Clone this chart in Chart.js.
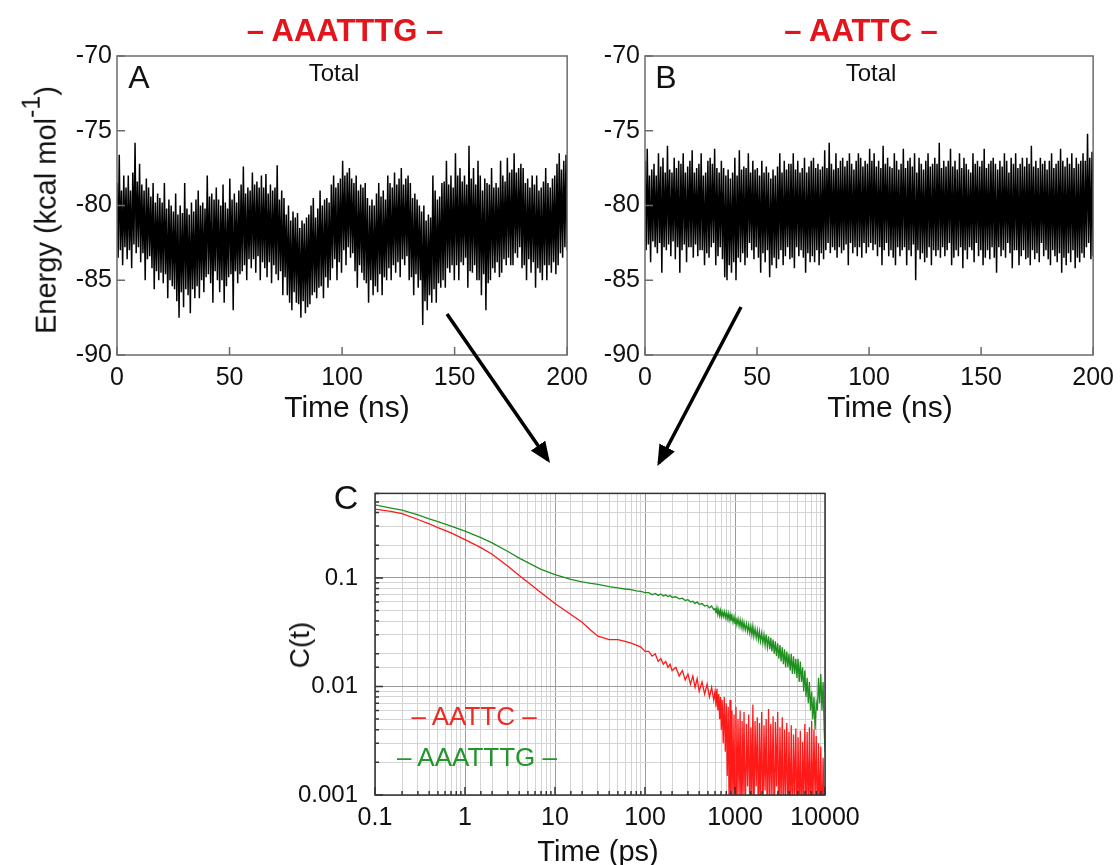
<!DOCTYPE html>
<html>
<head>
<meta charset="utf-8">
<script src="https://cdn.jsdelivr.net/npm/chart.js@4.4.1/dist/chart.umd.min.js"></script>
<style>
  body { margin: 0; background: #fff; font-family: "Liberation Sans", Arial, sans-serif; }
  #page { position: relative; width: 1120px; height: 865px; overflow: hidden; }
  canvas { position: absolute; }
  .lbl { position: absolute; transform: translate(-50%, -50%); white-space: nowrap; line-height: 1; color: #111; }
  .rot { transform: translate(-50%, -50%) rotate(-90deg); }
  svg { position: absolute; left: 0; top: 0; pointer-events: none; }
</style>
</head>
<body>
<div id="page">
  <canvas id="chartA" width="596" height="394" style="left:0;top:36px"></canvas>
  <canvas id="chartB" width="594" height="394" style="left:528px;top:36px"></canvas>
  <canvas id="chartC" width="620" height="403" style="left:250px;top:462px"></canvas>

  <div class="lbl" style="left:345px;top:30px;font-size:31px;font-weight:bold;color:#e3141b">– AAATTTG –</div>
  <div class="lbl" style="left:861px;top:30px;font-size:31px;font-weight:bold;color:#e3141b">– AATTC –</div>
  <div class="lbl" style="left:334px;top:73px;font-size:24px">Total</div>
  <div class="lbl" style="left:871px;top:73px;font-size:24px">Total</div>
  <div class="lbl" style="left:139px;top:77px;font-size:32px">A</div>
  <div class="lbl" style="left:666px;top:77px;font-size:32px">B</div>
  <div class="lbl rot" style="left:42px;top:210px;font-size:29px">Energy (kcal mol<sup style="font-size:25px;position:relative;top:-5px">-1</sup>)</div>
  <div class="lbl" style="left:347px;top:407px;font-size:30px">Time (ns)</div>
  <div class="lbl" style="left:890px;top:407px;font-size:30px">Time (ns)</div>
  <div class="lbl" style="left:346px;top:497px;font-size:34px">C</div>
  <div class="lbl rot" style="left:300px;top:645px;font-size:28px">C(t)</div>
  <div class="lbl" style="left:598px;top:851px;font-size:29px">Time (ps)</div>
  <div class="lbl" style="left:474px;top:716px;font-size:26px;color:#ee2a24">– AATTC –</div>
  <div class="lbl" style="left:477px;top:757px;font-size:26px;color:#22962a">– AAATTTG –</div>

  <svg width="1120" height="865">
    <defs>
      <marker id="head" markerWidth="6" markerHeight="5" refX="5" refY="2.5" orient="auto" markerUnits="strokeWidth">
        <path d="M0,0 L6,2.5 L0,5 Z" fill="#000"/>
      </marker>
    </defs>
    <line x1="447" y1="314" x2="548" y2="460" stroke="#000" stroke-width="3.5" marker-end="url(#head)"/>
    <line x1="741" y1="307" x2="659" y2="463" stroke="#000" stroke-width="3.5" marker-end="url(#head)"/>
  </svg>
</div>

<script>
// total energy, AAATTTG (panel A): high / low pairs every 0.5 ns over 0..200 ns
const energyA = [
  -78.5,-83.5, -76.6,-83, -79,-84, -78,-82.8, -78.8,-83.6,
  -78,-83, -79,-84.2, -77.8,-82.6, -75.8,-83.2, -78.4,-82.8,
  -77.2,-83.8, -78.6,-83.2, -79,-85, -78.2,-83.6, -78.8,-83.4,
  -79.4,-84.2, -78.5,-85.6, -79.8,-84.4, -79.2,-85, -79.5,-84.5,
  -79.8,-85.2, -78.5,-84.6, -80.2,-86.2, -79.6,-85, -80,-85.4,
  -80.4,-85.6, -79.2,-86.4, -80.6,-87.5, -80,-85.8, -80.5,-86.8,
  -78.5,-85.6, -80.2,-86, -80.6,-87.2, -79.8,-85.6, -80.4,-86.2,
  -79.6,-85.4, -79,-86.2, -80,-85, -79.8,-85.8, -80.2,-84.8,
  -78,-84.6, -79.4,-85.2, -79.2,-86.5, -79.6,-84.4, -78.8,-85,
  -79.6,-85.8, -80,-85, -78.6,-86.5, -79.8,-85.4, -80.2,-84.8,
  -78.2,-84.6, -79.6,-87, -79.2,-84.4, -79.8,-85.2, -79,-84.6,
  -78.6,-84.4, -77.4,-84, -79.2,-85, -78.8,-83.6, -79,-84.2,
  -77.8,-83.6, -78.6,-84.5, -78.4,-83.4, -78.8,-85, -78,-83.8,
  -78.8,-84.2, -77.9,-84.8, -79.2,-83.8, -78.6,-85.2, -79,-84,
  -78.8,-84.6, -77.3,-85, -79.6,-84.4, -79,-86, -79.5,-84.8,
  -80.6,-86, -80,-86.5, -81,-87, -80.4,-85.8, -80.8,-86.5,
  -80.5,-86.6, -81.5,-87.5, -81,-86.4, -81.2,-87.2, -80.8,-86.8,
  -80.6,-86.6, -80,-86, -79.5,-85.8, -80.8,-86.2, -80.2,-85.5,
  -79,-85.4, -80,-86.2, -79.6,-84.8, -79.5,-85.5, -79.8,-85,
  -78.6,-84.2, -78,-83.6, -78.8,-85, -78.5,-83.8, -78.2,-84.5,
  -77,-83, -78,-84, -77.8,-82.8, -77.5,-83.5, -78.2,-83.2,
  -78.5,-84.4, -78,-85.5, -79,-84, -78.6,-84.5, -78.8,-85,
  -78.5,-85.2, -79.5,-86.5, -80,-85, -79.6,-86, -80,-85.4,
  -79.2,-85.8, -78.5,-84.6, -79.4,-86, -79,-84.8, -79.6,-85,
  -78,-84.2, -78.5,-85, -78.8,-84, -77.8,-84.5, -78.6,-83.8,
  -78.2,-84.8, -77.5,-83.6, -78.6,-84, -78.2,-83.4, -78,-85,
  -78.5,-84.8, -79.5,-86, -79.2,-84.6, -79.6,-85.5, -80,-85,
  -80.4,-88, -80,-86.4, -81,-87, -80.6,-86, -80.8,-86.5,
  -78,-85.6, -79,-86.5, -79.6,-85.2, -79.4,-85.5, -78.5,-85,
  -78.4,-85.5, -77,-84.2, -78.6,-84.5, -78,-84, -78.8,-85,
  -76.5,-84, -78,-85, -77.5,-83.8, -78.4,-84, -78,-83.5,
  -78.6,-85.5, -76,-84.4, -78.2,-84.5, -77.5,-84, -78.6,-85,
  -77,-85, -78,-86, -79,-84.6, -78.2,-87, -78.5,-85.2,
  -78.6,-85, -77.5,-84.2, -78.8,-84.5, -78.5,-83.8, -78.8,-84.8,
  -77,-84.5, -78,-83.6, -78.4,-84, -76.8,-83.5, -77.8,-84,
  -77.6,-84, -76.5,-83.2, -77.8,-83.5, -77.5,-82.8, -77.2,-84.2,
  -77.5,-84, -78.5,-85, -78.2,-83.6, -78.8,-84.5, -78,-83.8,
  -78.6,-85.5, -78,-84.2, -79,-84.5, -78.8,-85, -78.4,-84,
  -77.5,-85, -78.5,-84, -78.8,-84.5, -78.2,-83.8, -78,-84.6,
  -77.2,-84, -76.5,-83.2, -77.6,-83.5, -77,-82.8, -76.6,-83
];

// total energy, AATTC (panel B)
const energyB = [
  -77,-83, -76.2,-82.6, -78,-83.8, -77.6,-82.4, -77.2,-82.8,
  -78,-83.2, -76.5,-82.5, -77.4,-84.5, -76.8,-82.8, -77.8,-83,
  -76,-82.6, -77.6,-83.4, -77.8,-82.4, -76.8,-83.6, -77.5,-82.8,
  -77,-84.5, -77.2,-83, -76.5,-82.6, -77.8,-83.8, -77.4,-82.8,
  -77,-82.8, -76.3,-83.5, -77.8,-82.6, -77.5,-83.4, -77.2,-83,
  -76.5,-83, -78,-84, -77.8,-83.2, -77,-83.5, -76.8,-82.8,
  -77.2,-82.5, -76.2,-84, -77.5,-83.4, -77.8,-82.8, -77,-83.6,
  -77.5,-84.8, -78,-85, -77.6,-84, -78.2,-84.5, -77.8,-83.8,
  -76.8,-85, -78,-83.5, -76.3,-83.8, -77.6,-83.2, -77.4,-84,
  -77.5,-83.5, -76.5,-82.5, -77.8,-83, -77,-83.6, -77.6,-82.8,
  -77.5,-83.5, -78,-84.5, -77,-83.2, -77.8,-83.8, -77.4,-83,
  -77.8,-84.8, -78.2,-84, -77.6,-83.5, -78,-84.2, -77.4,-83.6,
  -76.5,-83, -77.8,-84, -77,-83.4, -77.6,-82.8, -77.2,-83.6,
  -77.2,-83.5, -76.5,-84.2, -77.6,-82.8, -77,-83.4, -77.8,-83,
  -77.5,-83.5, -76.8,-84.5, -77.8,-83.2, -77.4,-83.8, -77,-83.4,
  -76.8,-83.8, -77.5,-83, -77.2,-84, -77.6,-83.2, -77.4,-83.6,
  -76.3,-83, -77.5,-82.5, -75.8,-83.2, -77.2,-82.8, -77.6,-83,
  -76.5,-83.5, -77.5,-82.8, -77,-83.2, -76.8,-83, -77.4,-82.6,
  -77,-84, -76.5,-82.5, -77.2,-83.2, -77.6,-82.8, -77,-83.4,
  -76.5,-82.8, -76.8,-83.5, -77.4,-82.5, -77,-83.2, -77.2,-82.8,
  -76.2,-82.5, -77,-83, -76.5,-82.6, -77.4,-83.4, -77,-82.8,
  -77.5,-84, -76,-83, -77.2,-82.5, -76.8,-83.4, -77.4,-83,
  -77.5,-83.5, -76.5,-84, -77,-82.8, -77.6,-83.4, -77.2,-83,
  -76.2,-82.8, -77.5,-84, -77,-83, -76.8,-83.4, -77.4,-82.6,
  -76.5,-85, -77.8,-83, -76.8,-83.6, -77.2,-83.2, -77.6,-83.8,
  -77,-83.5, -76.5,-82.8, -77.4,-84, -77.2,-83, -76.8,-83.4,
  -77.2,-83, -75.8,-83.5, -77.5,-82.8, -77,-83.4, -77.4,-83,
  -77,-82.5, -76.2,-84, -77.4,-83.5, -77,-83, -77.6,-83.4,
  -76.5,-82.8, -77.5,-84.2, -76.8,-83, -77.2,-83.6, -77.6,-82.8,
  -77.8,-83, -76.5,-83.8, -77.2,-82.5, -77,-83.4, -77.4,-83,
  -77,-84, -76.2,-83.5, -77.5,-83, -77.2,-83.6, -77,-82.8,
  -76.8,-83.5, -77.2,-84.5, -77.6,-82.8, -77,-83.4, -77.4,-83,
  -76.5,-83.5, -77,-82.5, -77.8,-83.2, -76.8,-84.2, -77.2,-83,
  -76.5,-83, -77.5,-84, -77.2,-83.4, -76.8,-83, -77.4,-83.6,
  -76.8,-83.5, -77.2,-84, -76,-83, -77.4,-83.6, -77,-83.2,
  -77.5,-83.8, -76.8,-82.5, -77.2,-83.4, -77,-83, -77.6,-83.6,
  -77,-84, -76.5,-83, -77.5,-83.4, -77.2,-83.8, -77,-83.2,
  -76.2,-84.5, -77,-83.5, -77.4,-84, -76.8,-83.2, -77.2,-83.8,
  -76.5,-83, -77.5,-84.2, -76.8,-83.5, -77.2,-83.8, -77,-83.2,
  -76.5,-83.5, -77,-82.8, -75.2,-82.5, -76.8,-83.6, -76.4,-83.4
];

const nsTicks = [0, 50, 100, 150, 200];
const energyTicks = [-90, -85, -80, -75, -70];

// panel C: autocorrelation vs time (ps), log-log
const corrTime = [
  0.1, 0.15, 0.2, 0.3, 0.4, 0.5, 0.7, 1, 1.5, 2, 3, 4, 5, 7, 10, 15, 20, 25, 30, 40, 50, 60, 70, 80, 90, 100,
  110, 120, 130, 140, 150, 160, 170, 180, 190, 200, 220, 240, 260, 280, 300, 320, 340, 360, 380, 400, 430, 460, 490, 520, 550, 580,
  600, 615, 630, 645, 660, 675, 690, 705, 720, 740, 760, 780, 800, 820, 840, 860, 880, 900,
  925, 950, 975, 1000, 1025, 1050, 1080, 1110, 1140, 1170, 1200, 1230, 1260,
  1300, 1340, 1380, 1420, 1460, 1500, 1540, 1580, 1620, 1670, 1720, 1770, 1820, 1870, 1920,
  1980, 2040, 2100, 2160, 2220, 2290, 2360, 2430, 2500, 2570, 2650, 2730, 2810, 2890,
  2980, 3070, 3160, 3250, 3350, 3450, 3550, 3650, 3760, 3870, 3980, 4100, 4220, 4340,
  4470, 4600, 4740, 4880, 5020, 5170, 5320, 5480, 5640, 5800, 5970,
  6150, 6330, 6520, 6710, 6910, 7110, 7320, 7540, 7760, 7990, 8230, 8470, 8720, 8980, 9250, 9520, 9800, 10000
];
const corrAATTC = [
  0.43, 0.41, 0.39, 0.345, 0.315, 0.29, 0.26, 0.225, 0.19, 0.165, 0.128, 0.105, 0.091, 0.073, 0.058, 0.046, 0.039, 0.033, 0.029, 0.027, 0.027, 0.026, 0.025, 0.024, 0.023, 0.021,
  0.021, 0.019, 0.020, 0.017, 0.018, 0.016, 0.017, 0.015, 0.016, 0.014, 0.015, 0.0125, 0.014, 0.0115, 0.013, 0.0105, 0.0125, 0.0098, 0.0118, 0.009, 0.011, 0.0085, 0.0105, 0.008, 0.0098, 0.0075,
  0.009, 0.0065, 0.0095, 0.006, 0.0085, 0.005, 0.008, 0.004, 0.0075,
  0.003, 0.008, 0.0025, 0.007, 0.0015, 0.0065, 0.0008, 0.0075, 0.0005,
  0.006, 0.0008, 0.0055, 0.0004, 0.0065, 0.0007,
  0.005, 0.0009, 0.006, 0.0004, 0.0048, 0.001, 0.0058,
  0.0005, 0.0045, 0.0012, 0.0055, 0.0006, 0.0042, 0.0009, 0.0068, 0.0005,
  0.0048, 0.0012, 0.0052, 0.0004, 0.0046, 0.0008,
  0.0058, 0.0005, 0.0044, 0.0011, 0.0050, 0.0004, 0.0062, 0.0007, 0.0045,
  0.0009, 0.0053, 0.0004, 0.0047, 0.0012,
  0.0058, 0.0005, 0.0042, 0.0008, 0.0052, 0.0004, 0.0040, 0.0010, 0.0046, 0.0005, 0.0038,
  0.0007, 0.0044, 0.0004, 0.0036, 0.0009, 0.0041, 0.0005,
  0.0034, 0.0006, 0.0039, 0.0004, 0.0031, 0.0008, 0.0045,
  0.0005, 0.0038, 0.0007, 0.0042, 0.0004, 0.0048, 0.0006, 0.0040, 0.0009, 0.0035,
  0.0005, 0.0030, 0.0006, 0.0028, 0.0004, 0.0022, 0.0007, 0.0012
];
const corrAAATTTG = [
  0.47, 0.44, 0.42, 0.38, 0.35, 0.33, 0.30, 0.27, 0.235, 0.21, 0.175, 0.152, 0.138, 0.12, 0.107, 0.097, 0.092, 0.089, 0.087, 0.083, 0.081, 0.079, 0.078, 0.076, 0.075, 0.073,
  0.073, 0.070, 0.072, 0.069, 0.071, 0.068, 0.070, 0.067, 0.069, 0.066, 0.067, 0.064, 0.065, 0.062, 0.063, 0.060, 0.061, 0.058, 0.060, 0.057, 0.058, 0.055, 0.056, 0.053, 0.055, 0.051,
  0.052, 0.047, 0.053, 0.046, 0.051, 0.045, 0.050, 0.044, 0.049,
  0.044, 0.049, 0.043, 0.048, 0.042, 0.047, 0.041, 0.046, 0.040,
  0.045, 0.039, 0.044, 0.038, 0.043, 0.037,
  0.042, 0.036, 0.041, 0.035, 0.040, 0.034, 0.039,
  0.033, 0.038, 0.032, 0.037, 0.031, 0.036, 0.030, 0.036, 0.029,
  0.034, 0.028, 0.033, 0.027, 0.032, 0.026,
  0.031, 0.025, 0.030, 0.024, 0.030, 0.023, 0.029, 0.022, 0.028,
  0.021, 0.027, 0.020, 0.026, 0.019,
  0.025, 0.018, 0.024, 0.017, 0.023, 0.016, 0.022, 0.015, 0.021, 0.015, 0.020,
  0.014, 0.020, 0.013, 0.019, 0.013, 0.018, 0.012,
  0.018, 0.011, 0.017, 0.011, 0.015, 0.009, 0.014,
  0.008, 0.012, 0.007, 0.011, 0.006, 0.009, 0.005, 0.008, 0.004, 0.007,
  0.006, 0.012, 0.007, 0.013, 0.006, 0.011, 0.004, 0.0025
];

const tickFont = { family: "Liberation Sans", size: 25 };

// box frame + inward tick marks for panels A and B
const frameTicks = {
  id: "frameTicks",
  afterDatasetsDraw(chart) {
    const { ctx, chartArea: a, scales: { x, y } } = chart;
    ctx.save();
    ctx.strokeStyle = "#6b6b6b";
    ctx.lineWidth = 1.5;
    ctx.strokeRect(a.left, a.top, a.right - a.left, a.bottom - a.top);
    ctx.beginPath();
    nsTicks.forEach(v => {
      const px = x.getPixelForValue(v);
      ctx.moveTo(px, a.bottom);
      ctx.lineTo(px, a.bottom - 8);
    });
    energyTicks.forEach(v => {
      const py = y.getPixelForValue(v);
      ctx.moveTo(a.left, py);
      ctx.lineTo(a.left + 8, py);
    });
    ctx.stroke();
    ctx.restore();
  }
};

function energyChart(id, values, padRight, yWidth) {
  const pts = values.map((v, i) => ({ x: i * 200 / (values.length - 1), y: v }));
  return new Chart(document.getElementById(id), {
    type: "line",
    data: { datasets: [{ data: pts, borderColor: "#000", borderWidth: 1.5, pointRadius: 0, tension: 0 }] },
    options: {
      responsive: false,
      animation: false,
      parsing: false,
      layout: { padding: { top: 16, right: padRight, left: 0, bottom: 0 } },
      plugins: { legend: { display: false }, tooltip: { enabled: false } },
      scales: {
        x: {
          type: "linear", min: 0, max: 200,
          afterBuildTicks: s => { s.ticks = nsTicks.map(v => ({ value: v })); },
          ticks: { font: tickFont, color: "#111", padding: 8, maxRotation: 0, callback: v => String(v) },
          grid: { display: false, drawTicks: false },
          border: { display: false },
          afterFit: s => { s.height = 75; }
        },
        y: {
          min: -90, max: -70,
          afterBuildTicks: s => { s.ticks = energyTicks.map(v => ({ value: v })); },
          ticks: { font: tickFont, color: "#111", padding: 5, callback: v => String(v) },
          grid: { display: false, drawTicks: false },
          border: { display: false },
          afterFit: s => { s.width = yWidth; }
        }
      }
    },
    plugins: [frameTicks]
  });
}

energyChart("chartA", energyA, 23, 117);
energyChart("chartB", energyB, 23, 117);

// panel C
const isDecade = v => Math.abs(Math.log10(v) - Math.round(Math.log10(v))) < 1e-6;

const logFrame = {
  id: "logFrame",
  afterDatasetsDraw(chart) {
    const { ctx, chartArea: a, scales: { x, y } } = chart;
    ctx.save();
    ctx.strokeStyle = "#333";
    ctx.lineWidth = 1.5;
    ctx.strokeRect(a.left, a.top, a.right - a.left, a.bottom - a.top);
    ctx.beginPath();
    y.ticks.forEach(t => {
      const py = y.getPixelForValue(t.value);
      const len = isDecade(t.value) ? 8 : 4;
      ctx.moveTo(a.left, py); ctx.lineTo(a.left + len, py);
    });
    x.ticks.forEach(t => {
      const px = x.getPixelForValue(t.value);
      const len = isDecade(t.value) ? 8 : 4;
      ctx.moveTo(px, a.bottom); ctx.lineTo(px, a.bottom - len);
    });
    ctx.stroke();
    ctx.restore();
  }
};

const gridColor = ctx => (ctx.tick && isDecade(ctx.tick.value) ? "#9a9a9a" : "#d4d4d4");

new Chart(document.getElementById("chartC"), {
  type: "line",
  data: {
    datasets: [
      { data: corrTime.map((t, i) => ({ x: t, y: corrAAATTTG[i] })), borderColor: "#1f8f1f", borderWidth: 1.3, pointRadius: 0, tension: 0 },
      { data: corrTime.map((t, i) => ({ x: t, y: corrAATTC[i] })), borderColor: "#ff1a1a", borderWidth: 1.3, pointRadius: 0, tension: 0 }
    ]
  },
  options: {
    responsive: false,
    animation: false,
    parsing: false,
    layout: { padding: { top: 13, right: 45, left: 0, bottom: 0 } },
    plugins: { legend: { display: false }, tooltip: { enabled: false } },
    scales: {
      x: {
        type: "logarithmic", min: 0.1, max: 10000,
        ticks: { font: tickFont, color: "#111", padding: 8, maxRotation: 0, autoSkip: false,
                 callback: v => (isDecade(v) ? String(v) : "") },
        grid: { color: gridColor, lineWidth: 1, drawTicks: false },
        border: { display: false },
        afterFit: s => { s.height = 70; }
      },
      y: {
        type: "logarithmic", min: 0.001, max: 0.6,
        ticks: { font: { family: "Liberation Sans", size: 24 }, color: "#111", padding: 17, autoSkip: false,
                 callback: v => (isDecade(v) ? String(v) : "") },
        grid: { color: gridColor, lineWidth: 1, drawTicks: false },
        border: { display: false },
        afterFit: s => { s.width = 125; }
      }
    }
  },
  plugins: [logFrame]
});
</script>
</body>
</html>
